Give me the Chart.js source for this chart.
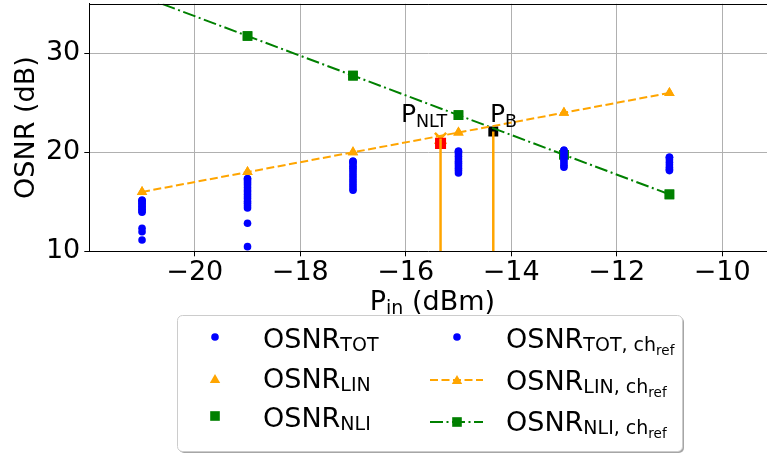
<!DOCTYPE html>
<html><head><meta charset="utf-8">
<script src="https://cdn.jsdelivr.net/npm/chart.js@4"></script>
<style>html,body{margin:0;padding:0;background:#fff;overflow:hidden}#wrap{width:767px;height:454px;position:relative}</style>
</head><body><div id="wrap"><canvas id="c" width="767" height="454"></canvas></div>
<script>
const pinValues = [-21, -19, -17, -15, -13, -11];
const osnrLin = [16.0, 18.0, 20.0, 22.0, 24.0, 26.0];
const osnrNli = [35.75, 31.75, 27.75, 23.75, 19.75, 15.75];
const osnrTotM21 = [15.15, 15.0, 14.85, 14.7, 14.55, 14.4, 14.25, 14.1, 13.95, 12.32, 11.98, 11.14];
const osnrTotM19 = [17.33, 17.1, 16.9, 16.7, 16.45, 16.2, 16.0, 15.75, 15.5, 15.3, 15.05, 14.85, 14.6, 14.37, 12.83, 10.47];
const osnrTotM17 = [19.08, 18.85, 18.6, 18.4, 18.15, 17.9, 17.65, 17.4, 17.15, 16.9, 16.65, 16.4, 16.16];
const osnrTotM15 = [20.09, 19.85, 19.6, 19.35, 19.1, 18.9, 18.65, 18.4, 18.15, 17.92];
const osnrTotM13 = [20.2, 19.95, 19.7, 19.45, 19.2, 18.95, 18.7, 18.5];
const osnrTotM11 = [19.5, 19.25, 19.0, 18.75, 18.5, 18.3, 18.15];
const osnrTotChRef = [15.15, 17.33, 19.08, 20.09, 20.2, 19.5];
const markerNames = ['NLT', 'B'];
const markerX = [-15.34, -14.34];
const markerY = [20.9, 22.1];
const xTicks = [-20, -18, -16, -14, -12, -10];
const yTicks = [10, 20, 30];
const yMin = 10, yMax = 35, xMin = -22, xMax = -9.15;

const FONT = 'DejaVu Sans';
const BLUE = '#0000ff', ORANGE = '#ffa500', GREEN = '#008000';

const totGroups = [osnrTotM21, osnrTotM19, osnrTotM17, osnrTotM15, osnrTotM13, osnrTotM11];
const totPoints = [];
totGroups.forEach((g, i) => g.forEach(v => totPoints.push({x: pinValues[i], y: v})));
const pts = arr => pinValues.map((x, i) => ({x, y: arr[i]}));

const datasets = [
  {label: 'tot', data: totPoints, pointStyle: 'circle', pointRadius: 3.8, backgroundColor: BLUE, borderWidth: 0, showLine: false},
  {label: 'lin', data: pts(osnrLin), pointStyle: 'triangle', pointRadius: 6, backgroundColor: ORANGE, borderWidth: 0, showLine: false},
  {label: 'nli', data: pts(osnrNli), pointStyle: 'rect', pointRadius: 6.8, backgroundColor: GREEN, borderWidth: 0, showLine: false, clip: 0},
  {label: 'totRef', data: pts(osnrTotChRef), pointStyle: 'circle', pointRadius: 3.8, backgroundColor: BLUE, borderWidth: 0, showLine: false},
  {label: 'linRef', data: pts(osnrLin), pointStyle: 'triangle', pointRadius: 6, pointBackgroundColor: ORANGE, pointBorderWidth: 0, borderColor: ORANGE, borderWidth: 2, borderDash: [8, 3.5], showLine: true, clip: 0},
  {label: 'nliRef', data: pts(osnrNli), pointStyle: 'rect', pointRadius: 6.8, pointBackgroundColor: GREEN, pointBorderWidth: 0, borderColor: GREEN, borderWidth: 2, borderDash: [13, 3.5, 2, 3.5], showLine: true, clip: 0},
  {label: 'vNLT', data: [{x: markerX[0], y: yMin}, {x: markerX[0], y: markerY[0] + 0.5}], pointRadius: 0, borderColor: ORANGE, borderWidth: 2.5, showLine: true},
  {label: 'vB', data: [{x: markerX[1], y: yMin}, {x: markerX[1], y: markerY[1]}], pointRadius: 0, borderColor: ORANGE, borderWidth: 2.5, showLine: true},
  {label: 'pNLT', data: [{x: markerX[0], y: markerY[0]}], pointStyle: 'rect', pointRadius: 7.8, backgroundColor: '#ff0000', borderWidth: 0, showLine: false},
  {label: 'pNLTx', data: [{x: markerX[0], y: markerY[0] + 0.5}], pointStyle: 'crossRot', pointRadius: 8, borderColor: ORANGE, borderWidth: 2.5, showLine: false},
  {label: 'pB', data: [{x: markerX[1], y: markerY[1]}], pointStyle: 'rect', pointRadius: 7, backgroundColor: '#000000', borderWidth: 0, showLine: false}
];

function drawRich(ctx, x, y, parts, sizes, shifts) {
  ctx.textBaseline = 'alphabetic';
  ctx.textAlign = 'left';
  parts.forEach(([t, lvl]) => {
    ctx.font = sizes[lvl] + 'px "' + FONT + '"';
    ctx.fillText(t, x, y + shifts[lvl]);
    x += ctx.measureText(t).width;
  });
  return x;
}
function richWidth(ctx, parts, sizes) {
  let w = 0;
  parts.forEach(([t, lvl]) => { ctx.font = sizes[lvl] + 'px "' + FONT + '"'; w += ctx.measureText(t).width; });
  return w;
}

const extras = {
  id: 'extras',
  afterDraw(chart) {
    const ctx = chart.ctx, ca = chart.chartArea;
    const xs = chart.scales.x, ys = chart.scales.y;
    ctx.save();
    // top spine
    ctx.strokeStyle = '#000'; ctx.lineWidth = 1;
    ctx.beginPath(); ctx.moveTo(ca.left, Math.round(ca.top) + 0.5); ctx.lineTo(ca.right, Math.round(ca.top) + 0.5); ctx.stroke();
    ctx.fillStyle = '#000';
    // annotations
    const aSizes = [25, 17.5], aShifts = [0, 5];
    drawRich(ctx, xs.getPixelForValue(markerX[0]) - 39.6, 122, [['P', 0], [markerNames[0], 1]], aSizes, aShifts);
    drawRich(ctx, xs.getPixelForValue(markerX[1]) - 3.3, 122, [['P', 0], [markerNames[1], 1]], aSizes, aShifts);
    // x title
    const tSizes = [27, 19], tShifts = [0, 4];
    const tParts = [['P', 0], ['in', 1], [' (dBm)', 0]];
    const tw = richWidth(ctx, tParts, tSizes);
    drawRich(ctx, (ca.left + 775.5) / 2 - tw / 2, 310, tParts, tSizes, tShifts);
    // legend
    const L = {x: 177, y: 315, w: 505, h: 136};
    ctx.fillStyle = 'rgba(0,0,0,0.35)';
    ctx.beginPath(); ctx.roundRect(L.x + 2, L.y + 2, L.w, L.h, 5); ctx.fill();
    ctx.fillStyle = '#fff'; ctx.strokeStyle = '#cccccc'; ctx.lineWidth = 1;
    ctx.beginPath(); ctx.roundRect(L.x + 0.5, L.y + 0.5, L.w, L.h, 5); ctx.fill(); ctx.stroke();
    const lSizes = [27, 19, 13.5], lShifts = [0, 3, 7];
    const mk = (style, x, y, r) => {
      Chart.helpers.drawPoint(ctx, {pointStyle: style, radius: r, borderWidth: 0, rotation: 0}, x, y);
    };
    ctx.fillStyle = BLUE; ctx.strokeStyle = BLUE;
    mk('circle', 215, 337, 3.8); mk('circle', 457, 337, 3.8);
    ctx.fillStyle = ORANGE; mk('triangle', 215, 380, 6);
    ctx.fillStyle = GREEN; mk('rect', 215, 416, 6.8);
    ctx.lineWidth = 2;
    ctx.strokeStyle = ORANGE; ctx.setLineDash([8, 3.5]);
    ctx.beginPath(); ctx.moveTo(430, 380); ctx.lineTo(483, 380); ctx.stroke();
    ctx.strokeStyle = GREEN; ctx.setLineDash([13, 3.5, 2, 3.5]);
    ctx.beginPath(); ctx.moveTo(430, 422); ctx.lineTo(483, 422); ctx.stroke();
    ctx.setLineDash([]);
    ctx.fillStyle = ORANGE; mk('triangle', 457, 381, 6);
    ctx.fillStyle = GREEN; mk('rect', 457, 422, 6.8);
    ctx.fillStyle = '#000';
    drawRich(ctx, 263, 348, [['OSNR', 0], ['TOT', 1]], lSizes, lShifts);
    drawRich(ctx, 263, 388, [['OSNR', 0], ['LIN', 1]], lSizes, lShifts);
    drawRich(ctx, 263, 427, [['OSNR', 0], ['NLI', 1]], lSizes, lShifts);
    drawRich(ctx, 506, 348, [['OSNR', 0], ['TOT, ch', 1], ['ref', 2]], lSizes, lShifts);
    drawRich(ctx, 506, 390, [['OSNR', 0], ['LIN, ch', 1], ['ref', 2]], lSizes, lShifts);
    drawRich(ctx, 506, 431, [['OSNR', 0], ['NLI, ch', 1], ['ref', 2]], lSizes, lShifts);
    ctx.restore();
  }
};

const fmt = v => (v < 0 ? '\u2212' + Math.abs(v) : String(v));

new Chart(document.getElementById('c'), {
  type: 'scatter',
  data: {datasets},
  options: {
    responsive: false, animation: false, devicePixelRatio: 1,
    layout: {autoPadding: false, padding: {top: 3.8, right: 0, left: 0, bottom: 0}},
    plugins: {legend: {display: false}, tooltip: {enabled: false}},
    scales: {
      x: {
        type: 'linear', min: xMin, max: xMax,
        afterBuildTicks: s => { s.ticks = xTicks.map(v => ({value: v})); },
        afterFit: s => { s.height = 454 - 251.3; s.paddingLeft = 0; s.paddingRight = 0; },
        ticks: {callback: v => fmt(v), font: {family: FONT, size: 27}, color: '#000', maxRotation: 0, autoSkip: false, padding: 0},
        grid: {color: '#b0b0b0', lineWidth: 1, tickColor: '#000', tickLength: 5},
        border: {color: '#000', width: 1}
      },
      y: {
        type: 'linear', min: yMin, max: yMax,
        afterBuildTicks: s => { s.ticks = yTicks.map(v => ({value: v})); },
        afterFit: s => { s.width = 89.3; s.paddingTop = 0; s.paddingBottom = 0; },
        ticks: {callback: v => fmt(v), font: {family: FONT, size: 27}, color: '#000', padding: 4},
        grid: {color: '#b0b0b0', lineWidth: 1, tickColor: '#000', tickLength: 5},
        border: {color: '#000', width: 1},
        title: {display: true, text: 'OSNR (dB)', font: {family: FONT, size: 27, lineHeight: 1.2}, color: '#000', padding: {top: 11, bottom: 0}}
      }
    }
  },
  plugins: [extras]
});
</script>
</body></html>
